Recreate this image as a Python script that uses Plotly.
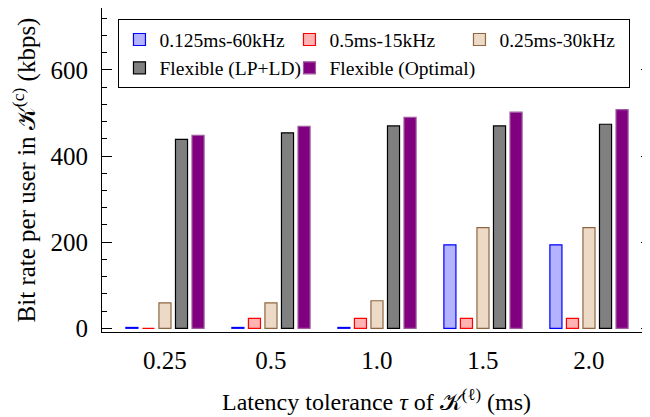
import plotly.graph_objects as go

categories = ["0.25", "0.5", "1.0", "1.5", "2.0"]
series_names = ["0.125ms-60kHz", "0.5ms-15kHz", "0.25ms-30kHz",
                "Flexible (LP+LD)", "Flexible (Optimal)"]
v_125_60 = [2, 2, 2, 194, 194]
v_05_15 = [0, 23, 23, 23, 23]
v_025_30 = [59, 59, 64, 234, 234]
v_lpld = [439, 454, 470, 470, 474]
v_opt = [448, 469, 490, 502, 508]
y_ticks = [0, 200, 400, 600]

series_values = [v_125_60, v_05_15, v_025_30, v_lpld, v_opt]
fills = ["#b3b3ff", "#ffb3b3", "#ecd9c6", "#808080", "#800080"]
borders = ["#0000ff", "#ff0000", "#8f6640", "#000000", "#a05aa0"]

FONT = "Times New Roman"

fig = go.Figure()
for name, vals, fc, bc in zip(series_names, series_values, fills, borders):
    fig.add_trace(go.Bar(
        x=categories, y=vals, name=name,
        marker=dict(color=fc, line=dict(color=bc, width=1.2)),
    ))

fig.update_layout(
    width=650, height=417,
    margin=dict(l=94, r=7, t=0, b=93, autoexpand=False),
    paper_bgcolor="white", plot_bgcolor="white",
    font=dict(family=FONT, color="black", size=22),
    barmode="group", bargap=0.22, bargroupgap=0.27,
    showlegend=True,
    legend=dict(
        orientation="h", x=0.03, y=0.965, xanchor="left", yanchor="top",
        bordercolor="black", borderwidth=1, bgcolor="white",
        font=dict(family=FONT, size=19.5),
        entrywidth=125, entrywidthmode="pixels",
        itemwidth=30, tracegroupgap=0,
    ),
)

fig.update_xaxes(
    type="category", range=[-0.594, 4.585], automargin=False,
    showline=True, linecolor="black", linewidth=1.2, mirror=True,
    ticks="", showgrid=False, zeroline=False,
    tickfont=dict(family=FONT, size=25),
    ticklabelstandoff=6,
    title=dict(text="Latency tolerance <i>τ</i> of 𝒦<sup>(ℓ)</sup> (ms)",
               font=dict(family=FONT, size=24), standoff=20),
)
fig.update_yaxes(
    range=[-8.6, 744], automargin=False,
    tickvals=y_ticks, ticktext=[str(t) for t in y_ticks],
    showline=True, linecolor="black", linewidth=1.2, mirror="ticks",
    ticks="inside", ticklen=10, tickwidth=1.2, tickcolor="black",
    minor=dict(dtick=40, tick0=0, ticks="inside", ticklen=5, tickwidth=1.2,
               tickcolor="black", showgrid=False),
    showgrid=False, zeroline=False,
    tickfont=dict(family=FONT, size=25),
    ticklabelstandoff=8,
    title=dict(text="Bit rate per user in 𝒦<sup>(c)</sup> (kbps)",
               font=dict(family=FONT, size=25), standoff=9),
)

fig.write_html("out.html")
